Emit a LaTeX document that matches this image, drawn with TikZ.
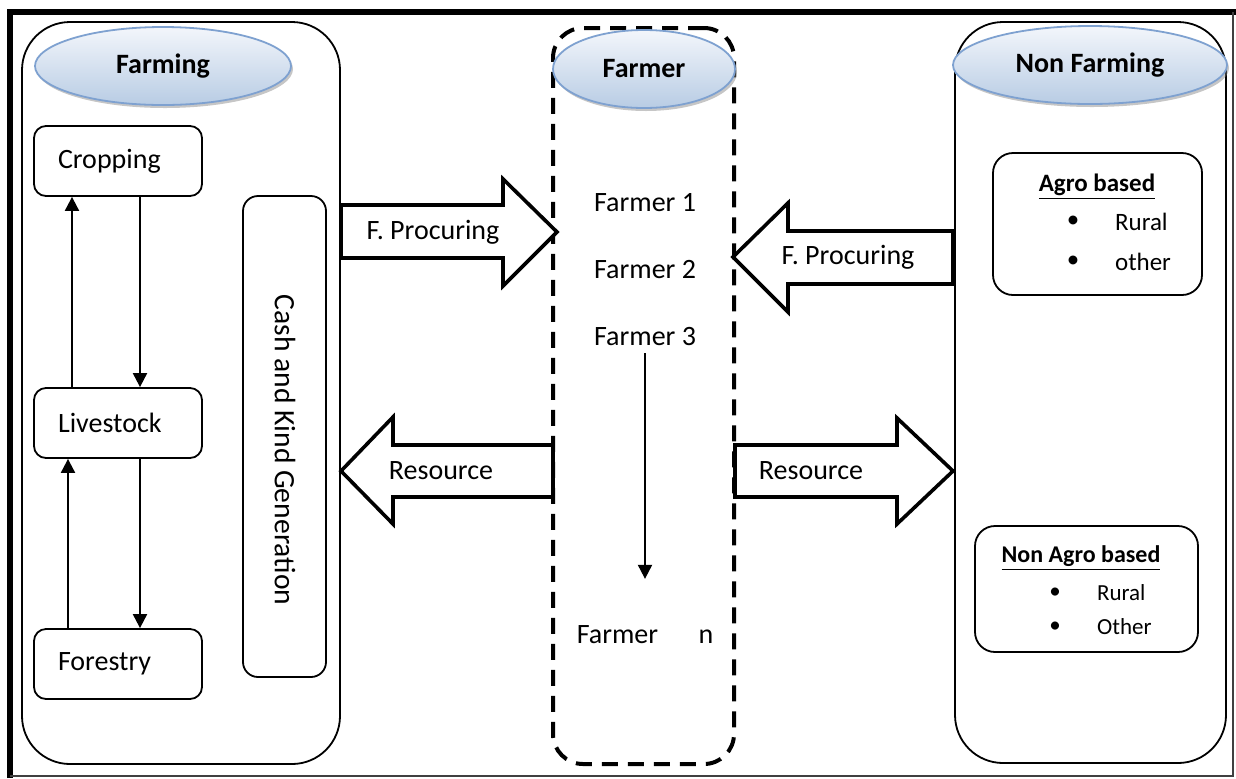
\documentclass[tikz,border=0pt]{standalone}
\usepackage{fontspec}
\setmainfont{Carlito}
\usepackage{tikz}
\usetikzlibrary{arrows.meta,positioning,shapes.geometric,shadows}

\definecolor{ovaltop}{HTML}{F3F6FB}
\definecolor{ovalbot}{HTML}{B8CCE4}
\definecolor{ovalline}{HTML}{7EA1D0}

\begin{document}
\begin{tikzpicture}[x=0.5pt,y=-0.5pt,>={Triangle[length=7pt,width=7pt]},
  every node/.style={font=\fontsize{14}{17}\selectfont},
  sector/.style={draw,line width=0.9pt,rounded corners=24pt,inner sep=0pt},
  farmerbox/.style={draw,line width=2pt,dash pattern=on 8pt off 5pt,rounded corners=15pt,inner sep=0pt},
  title/.style={ellipse,draw=ovalline,line width=0.9pt,top color=ovaltop,bottom color=ovalbot,
    minimum height=39pt,inner sep=0pt,font=\bfseries\fontsize{14}{17}\selectfont,
    drop shadow={shadow xshift=1pt,shadow yshift=-1.5pt,opacity=0.45}},
  farmbox/.style={draw,line width=0.9pt,rounded corners=6pt,minimum height=35pt,
    text width=60pt,align=left,inner xsep=12pt},
  typebox/.style={draw,line width=0.9pt,rounded corners=10pt,inner sep=0pt},
  flow/.style={->,line width=1pt},
  blockarrow/.style={draw,line width=1.8pt,fill=white,line join=miter},
  listtxt/.style={anchor=west,font=\fontsize{12.5}{14}\selectfont},
  smalltxt/.style={anchor=west,font=\fontsize{11.5}{14}\selectfont}]
  \useasboundingbox (0,0) rectangle (1236,778);

  % outer frame
  \draw[line width=3pt] (10,778) -- (10,12) -- (1236,12);
  \draw[black!75,line width=0.8pt] (10,776) -- (1233,776) -- (1233,12);

  % three sectors
  \node[sector,minimum width=159pt,minimum height=371pt] (farming) at (181,393) {};
  \node[farmerbox,minimum width=90.5pt,minimum height=368pt] (farmers) at (643.5,396) {};
  \node[sector,minimum width=135.5pt,minimum height=370.5pt] (nonfarming) at (1090.5,392.5) {};

  % farming side
  \node[farmbox] (crop) at (118,161) {Cropping};
  \node[farmbox] (live) at (118,423) {Livestock};
  \node[farmbox] (forest) at (118,664) {Forestry};
  \draw[flow] ([xshift=-23pt]live.north) -- ([xshift=-23pt]crop.south);
  \draw[flow] ([xshift=11pt]crop.south) -- ([xshift=11pt]live.north);
  \draw[flow] ([xshift=-25pt]forest.north) -- ([xshift=-25pt]live.south);
  \draw[flow] ([xshift=11pt]live.south) -- ([xshift=11pt]forest.north);

  \node[draw,line width=0.9pt,rounded corners=7.5pt,minimum width=41.5pt,minimum height=240.5pt] (cash) at (284.5,436.5) {};
  \node[rotate=-90,font=\fontsize{14.8}{17}\selectfont] (cashtxt) at (285,450) {Cash and Kind Generation};

  % farmers
  \node (f1) at (645,203) {Farmer 1};
  \node (f2) at (645,270) {Farmer 2};
  \node (f3) at (645,337) {Farmer 3};
  \node (fn) at (645,635) {Farmer\hspace{17pt} n};
  \draw[flow] (f3.south) -- ([yshift=20pt]fn.north);

  % non farming side
  \node[typebox,minimum width=104.5pt,minimum height=71pt] (agro) at (1097.5,224) {};
  \node[font=\bfseries\fontsize{12.5}{14}\selectfont] (agrotitle) at (1097,187) {\underline{Agro based}};
  \node[font=\fontsize{12.5}{14}\selectfont] (agrob1) at (1073,222) {\textbullet};
  \node[listtxt] (agrot1) at (1108,222) {Rural};
  \node[font=\fontsize{12.5}{14}\selectfont] (agrob2) at (1073,262) {\textbullet};
  \node[listtxt] (agrot2) at (1108,262) {other};

  \node[typebox,minimum width=111.5pt,minimum height=63pt] (nonagro) at (1086.5,589) {};
  \node[font=\bfseries\fontsize{12}{14}\selectfont] (nonagrotitle) at (1081,558) {\underline{Non Agro based}};
  \node[font=\fontsize{11.5}{14}\selectfont] (nonagrob1) at (1055,593) {\textbullet};
  \node[smalltxt] (nonagrot1) at (1090,593) {Rural};
  \node[font=\fontsize{11.5}{14}\selectfont] (nonagrob2) at (1055,627) {\textbullet};
  \node[smalltxt] (nonagrot2) at (1090,627) {Other};

  % block arrows
  \draw[blockarrow] (341,205) -- (503,205) -- (503,179) -- (557,232) -- (503,286) -- (503,258) -- (341,258) -- cycle;
  \node (procleft) at (433,232) {F. Procuring};
  \draw[blockarrow] (953,231) -- (788,231) -- (788,203) -- (733,257) -- (788,312) -- (788,284) -- (953,284) -- cycle;
  \node (procright) at (848,257) {F. Procuring};
  \draw[blockarrow] (553,445) -- (393,445) -- (393,417) -- (341,471) -- (393,524) -- (393,497) -- (553,497) -- cycle;
  \node (resleft) at (441,471) {Resource};
  \draw[blockarrow] (735,445) -- (897,445) -- (897,418) -- (953,471) -- (897,524) -- (897,497) -- (735,497) -- cycle;
  \node (resright) at (811,471) {Resource};

  % sector titles
  \node[title,minimum width=128pt] (farmingtitle) at (163,66) {Farming};
  \node[title,minimum width=91pt] (farmertitle) at (644,69) {Farmer};
  \node[title,minimum width=137pt] (nonfarmingtitle) at (1090,65) {Non Farming};
\end{tikzpicture}
\end{document}
